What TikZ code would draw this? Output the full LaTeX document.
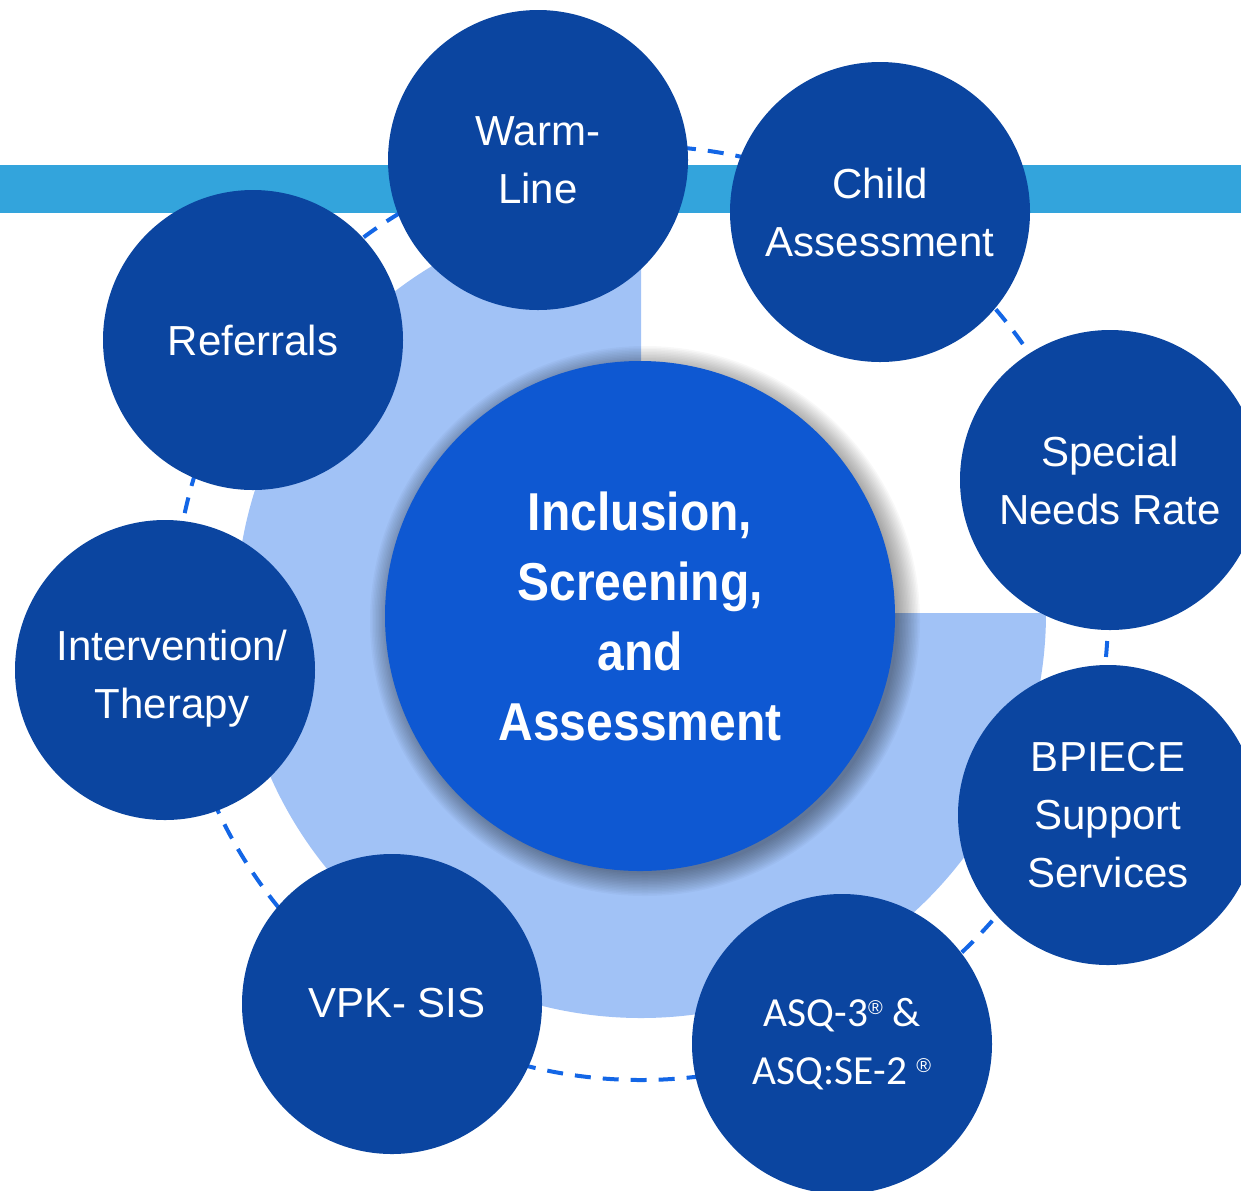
\documentclass[tikz,border=0pt]{standalone}
\usepackage{fontspec}
\setmainfont{Liberation Sans}
\newfontfamily\ctrfont[FakeStretch=0.9]{Liberation Sans}
\newfontfamily\asqfont{Carlito}
\newfontfamily\regfont{Liberation Sans}
\newcommand\regmark{\raisebox{9pt}{\regfont\fontsize{15}{15}\selectfont ®}}
\definecolor{satblue}{RGB}{11,69,160}
\definecolor{ctrblue}{RGB}{14,88,210}
\definecolor{pieblue}{RGB}{161,194,246}
\definecolor{barblue}{RGB}{51,164,220}
\definecolor{dashblue}{RGB}{19,102,230}
\begin{document}
\begin{tikzpicture}[x=0.75pt,y=0.75pt,yscale=-1,
  sat/.style={circle, fill=satblue, text=white, minimum size=225pt, inner sep=0pt,
    align=center, font=\fontsize{31.5}{43.5}\selectfont},
  sattext/.style={text=white, inner sep=0pt, align=center, font=\fontsize{31.5}{43.5}\selectfont},
  ctr/.style={circle, fill=ctrblue, text=white, minimum size=382.5pt, inner sep=0pt,
    align=center, font=\ctrfont\bfseries\fontsize{40}{52.5}\selectfont},
  ring/.style={draw=dashblue, line width=3pt, dash pattern=on 12pt off 9pt},
  shade/.style={fill=black, opacity=0.028}]
\useasboundingbox (0,0) rectangle (1241,1190);
\clip (0,0) rectangle (1241,1190);
% top bar
\fill[barblue] (0,165) rectangle (1241,213);
% three-quarter disc
\coordinate (O) at (641,613);
\fill[pieblue] (O) -- (641,208) arc[start angle=270, end angle=0, radius=405] -- cycle;
% dashed ring
\draw[ring] (O) circle[radius=467];
% soft shadow of the centre circle
\foreach \i in {1,...,16} {
  \fill[shade] (645,621) circle[radius=251+1.5*\i];
}
% centre
\node[ctr] (ctr) at (640,616) {Inclusion,\\Screening,\\and\\Assessment};
% satellites
\node[sat] (warm) at (538,160) {Warm-\\Line};
\node[sat] (child) at (880,212) {Child\\Assessment};
\node[sat] (snr) at (1110,480) {Special\\Needs Rate};
\node[sat] (bpiece) at (1108,815) {BPIECE\\Support\\Services};
\node[sat, font=\asqfont\fontsize{31}{43.5}\selectfont] (asq) at (842,1044) {ASQ-3\regmark\ \&\\ASQ:SE-2 \regmark};
\node[sat] (vpk) at (392,1004) {};
\node[sattext] (vpktext) at (397,1003) {VPK- SIS};
\node[sat] (inter) at (165,670) {};
\node[sattext] (intertext) at (172,679) {Intervention/\\Therapy};
\node[sat] (ref) at (253,340) {Referrals};
\end{tikzpicture}
\end{document}
